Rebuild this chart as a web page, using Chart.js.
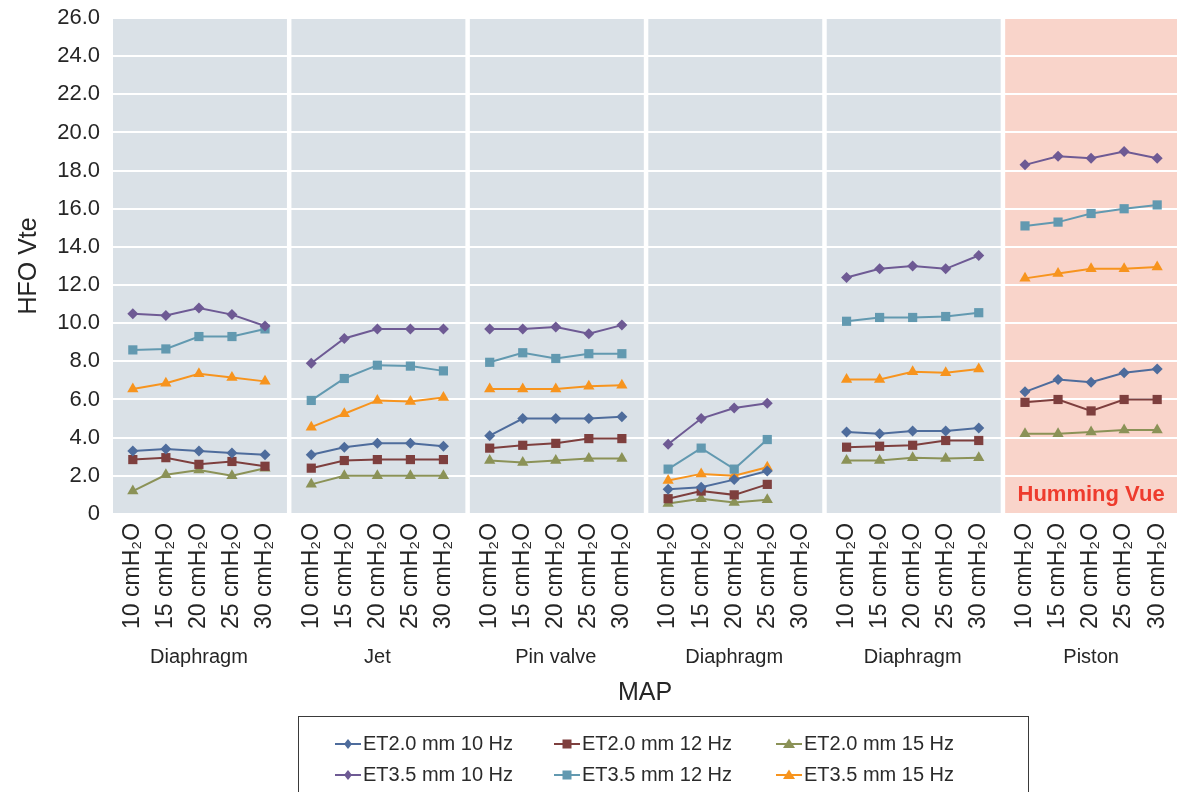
<!DOCTYPE html>
<html>
<head>
<meta charset="utf-8">
<script src="https://cdn.jsdelivr.net/npm/chart.js@4"></script>
<style>
  html, body { margin: 0; padding: 0; background: #fff; }
  #wrap { position: relative; width: 1177px; height: 792px; overflow: hidden; }
  #chart { position: absolute; left: 0; top: 0; }
  #legend {
    position: absolute; left: 298px; top: 716px; width: 731px; height: 90px;
    border: 1px solid #3a3a3a; box-sizing: border-box;
    font-family: "Liberation Sans", Arial, sans-serif; font-size: 20px; color: #2b2b2b;
  }
  .item { position: absolute; display: flex; align-items: center; white-space: nowrap; }
  .item svg { margin-right: 2px; }
</style>
</head>
<body>
<div id="wrap">
  <canvas id="chart" width="1177" height="722"></canvas>
  <div id="legend"></div>
</div>
<script>
// categories
const mapLabels = ['10 cmH₂O', '15 cmH₂O', '20 cmH₂O', '25 cmH₂O', '30 cmH₂O'];
const groupNames = ['Diaphragm', 'Jet', 'Pin valve', 'Diaphragm', 'Diaphragm', 'Piston'];

// series (5 values per ventilator group, 6 groups)
const et20_10 = [3.3, 3.4, 3.3, 3.2, 3.1,   3.1, 3.5, 3.7, 3.7, 3.55,   4.1, 5.0, 5.0, 5.0, 5.1,
                 1.3, 1.4, 1.8, 2.25, null,   4.3, 4.2, 4.35, 4.35, 4.5,   6.4, 7.05, 6.9, 7.4, 7.6];
const et20_12 = [2.85, 2.95, 2.6, 2.75, 2.5,   2.4, 2.8, 2.85, 2.85, 2.85,   3.45, 3.6, 3.7, 3.95, 3.95,
                 0.8, 1.2, 1.0, 1.55, null,   3.5, 3.55, 3.6, 3.85, 3.85,   5.85, 6.0, 5.4, 6.0, 6.0];
const et20_15 = [1.2, 2.05, 2.3, 2.0, 2.4,   1.55, 2.0, 2.0, 2.0, 2.0,   2.8, 2.7, 2.8, 2.9, 2.9,
                 0.55, 0.8, 0.6, 0.75, null,   2.8, 2.8, 2.95, 2.9, 2.95,   4.2, 4.2, 4.3, 4.4, 4.4];
const et35_10 = [10.5, 10.4, 10.8, 10.45, 9.85,   7.9, 9.2, 9.7, 9.7, 9.7,   9.7, 9.7, 9.8, 9.45, 9.9,
                 3.65, 5.0, 5.55, 5.8, null,   12.4, 12.85, 13.0, 12.85, 13.55,   18.3, 18.75, 18.65, 19.0, 18.65];
const et35_12 = [8.6, 8.65, 9.3, 9.3, 9.7,   5.95, 7.1, 7.8, 7.75, 7.5,   7.95, 8.45, 8.15, 8.4, 8.4,
                 2.35, 3.45, 2.35, 3.9, null,   10.1, 10.3, 10.3, 10.35, 10.55,   15.1, 15.3, 15.75, 16.0, 16.2];
const et35_15 = [6.55, 6.85, 7.35, 7.15, 6.95,   4.55, 5.25, 5.95, 5.9, 6.1,   6.55, 6.55, 6.55, 6.7, 6.75,
                 1.75, 2.1, 2.0, 2.45, null,   7.05, 7.05, 7.45, 7.4, 7.6,   12.35, 12.6, 12.85, 12.85, 12.95];

const seriesNames = ['ET2.0 mm 10 Hz', 'ET2.0 mm 12 Hz', 'ET2.0 mm 15 Hz', 'ET3.5 mm 10 Hz', 'ET3.5 mm 12 Hz', 'ET3.5 mm 15 Hz'];
const seriesData = [et20_10, et20_12, et20_15, et35_10, et35_12, et35_15];
const seriesColors = ['#4e6c9c', '#7e3f3e', '#8b9257', '#6e5a94', '#6299b0', '#f7941e'];
const seriesShapes = ['rectRot', 'rect', 'triangle', 'rectRot', 'rect', 'triangle'];

const yTicks = [0, 2, 4, 6, 8, 10, 12, 14, 16, 18, 20, 22, 24, 26];

// category position: groups are 5 points wide with a gap between them
const GROUP_STEP = 5.4;
const perGroup = mapLabels.length;
function catPos(i) {
  return Math.floor(i / perGroup) * GROUP_STEP + (i % perGroup);
}
const xMin = -0.6;
const xMax = (groupNames.length - 1) * GROUP_STEP + perGroup - 1 + 0.6;
const catTicks = groupNames.flatMap((g, gi) => mapLabels.map((m, mi) => catPos(gi * perGroup + mi)));
const groupTicks = groupNames.map((g, gi) => gi * GROUP_STEP + (perGroup - 1) / 2);

const FONT = '"Liberation Sans", Arial, sans-serif';
const TEXT = '#262626';
const radius = { rectRot: 5.5, rect: 6.5, triangle: 6.5 };

const datasets = seriesData.map((vals, k) => ({
  label: seriesNames[k],
  data: vals.map((v, i) => ({ x: catPos(i), y: v })),
  borderColor: seriesColors[k],
  backgroundColor: seriesColors[k],
  borderWidth: 2,
  pointStyle: seriesShapes[k],
  pointRadius: radius[seriesShapes[k]],
  pointBorderWidth: 0,
  spanGaps: false,
  segment: {
    borderColor: ctx => Math.floor(ctx.p0DataIndex / perGroup) !== Math.floor(ctx.p1DataIndex / perGroup) ? 'rgba(0,0,0,0)' : undefined
  }
}));

// grey / pink panels behind the grid, white gap between them
const panelsPlugin = {
  id: 'panels',
  beforeDraw(chart) {
    const { ctx, chartArea, scales } = chart;
    const last = groupNames.length - 1;
    ctx.save();
    groupNames.forEach((g, gi) => {
      const l = scales.x.getPixelForValue(gi * GROUP_STEP - 0.6);
      const r = gi === last ? chartArea.right : scales.x.getPixelForValue((gi + 1) * GROUP_STEP - 0.6) - 4.5;
      ctx.fillStyle = gi === last ? '#f9d4ca' : '#dae1e7';
      ctx.fillRect(l, chartArea.top, r - l, chartArea.bottom - chartArea.top);
    });
    ctx.restore();
  },
  afterDatasetsDraw(chart) {
    const { ctx, chartArea, scales } = chart;
    const gi = groupNames.length - 1;
    ctx.save();
    ctx.fillStyle = '#ee3b2d';
    ctx.font = 'bold 22px ' + FONT;
    ctx.textAlign = 'center';
    ctx.textBaseline = 'middle';
    ctx.fillText('Humming Vue', scales.x.getPixelForValue(gi * GROUP_STEP + 2), chartArea.bottom - 19);
    ctx.restore();
  }
};

new Chart(document.getElementById('chart'), {
  type: 'line',
  data: { datasets },
  plugins: [panelsPlugin],
  options: {
    responsive: false,
    animation: false,
    layout: { autoPadding: false, padding: { left: 0, top: 18, right: 0, bottom: 14 } },
    plugins: { legend: { display: false }, tooltip: { enabled: false } },
    scales: {
      x: {
        type: 'linear', min: xMin, max: xMax,
        afterBuildTicks: s => { s.ticks = catTicks.map(v => ({ value: v })); },
        afterFit: s => { s.paddingLeft = 0; s.paddingRight = 0; },
        ticks: {
          autoSkip: false, maxRotation: 90, minRotation: 90, padding: 9,
          color: TEXT, font: { family: FONT, size: 23 },
          callback: (v, i) => mapLabels[i % perGroup]
        },
        grid: { display: false, drawTicks: false },
        border: { display: false }
      },
      x2: {
        type: 'linear', position: 'bottom', weight: 1, min: xMin, max: xMax,
        afterBuildTicks: s => { s.ticks = groupTicks.map(v => ({ value: v })); },
        afterFit: s => { s.paddingLeft = 0; s.paddingRight = 0; },
        ticks: {
          autoSkip: false, maxRotation: 0, minRotation: 0, padding: 7,
          color: TEXT, font: { family: FONT, size: 20 },
          callback: (v, i) => groupNames[i]
        },
        grid: { display: false, drawTicks: false },
        border: { display: false },
        title: { display: true, text: 'MAP', color: TEXT, font: { family: FONT, size: 25 }, padding: { top: 2, bottom: 0 } }
      },
      y: {
        min: 0, max: 26,
        afterBuildTicks: s => { s.ticks = yTicks.map(v => ({ value: v })); },
        afterFit: s => { s.width = 113; s.paddingTop = 0; s.paddingBottom = 0; },
        ticks: {
          padding: 13, color: TEXT, font: { family: FONT, size: 22 },
          callback: v => v === 0 ? '0' : v.toFixed(1)
        },
        grid: { color: '#ffffff', lineWidth: 2, drawTicks: false },
        border: { display: false },
        title: { display: true, text: 'HFO Vte', color: TEXT, font: { family: FONT, size: 25 }, padding: { top: 14, bottom: 0 } }
      }
    }
  }
});

// legend: 3 columns x 2 rows, same order as the reference
const legend = document.getElementById('legend');
const colLeft = [36, 255, 477];
const rowTop = [15, 46];
function icon(color, shape) {
  let m = '';
  if (shape === 'rectRot') m = `<polygon points="13,5 17,10 13,15 9,10" fill="${color}"/>`;
  else if (shape === 'rect') m = `<rect x="8.5" y="5.5" width="9" height="9" fill="${color}"/>`;
  else m = `<polygon points="13,4.5 19,14 7,14" fill="${color}"/>`;
  return `<svg width="26" height="20"><line x1="0" y1="10" x2="26" y2="10" stroke="${color}" stroke-width="2"/>${m}</svg>`;
}
seriesNames.forEach((name, k) => {
  const d = document.createElement('div');
  d.className = 'item';
  d.style.left = colLeft[k % 3] + 'px';
  d.style.top = rowTop[Math.floor(k / 3)] + 'px';
  d.innerHTML = icon(seriesColors[k], seriesShapes[k]) + '<span>' + name + '</span>';
  legend.appendChild(d);
});
</script>
</body>
</html>
